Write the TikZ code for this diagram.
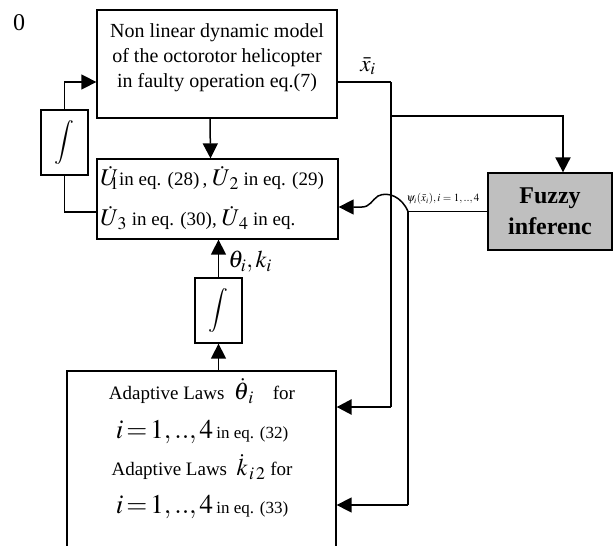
\documentclass[tikz,border=0pt]{standalone}
\usepackage{mathptmx}
\usepackage[no-math]{fontspec}
\setmainfont{Liberation Serif}
\usetikzlibrary{arrows.meta}

\begin{document}
\begin{tikzpicture}[x=1pt,y=-1pt,
  blk/.style={draw, line width=1.3pt, inner sep=0pt},
  wire/.style={line width=1.5pt},
  bus/.style={line width=2.6pt},
  arr/.style={-{Triangle[length=15pt,width=15pt]}},
  txt/.style={inner sep=0pt, font=\fontsize{19}{22}\selectfont},
]
\useasboundingbox (0,0) rectangle (613,546);
\clip (0,0) rectangle (613,546);

% blocks
\node[blk, minimum width=240pt, minimum height=108pt] (model) at (217,64) {};
\node[txt, align=center, font=\fontsize{20}{25}\selectfont] (modeltxt) at (217,58)
  {Non linear dynamic model\\ of the octorotor helicopter\\ in faulty operation eq.(7)};

\node[blk, minimum width=241pt, minimum height=80pt] (ubox) at (217.5,199) {};
\node[txt, anchor=west] (uline1) at (100,178)
  {{\fontsize{24}{26}\selectfont$\dot U_{\!\!\!1}$}in eq. (28)\,, {\fontsize{24}{26}\selectfont$\dot U_{\,2}$} in eq. (29)};
\node[txt, anchor=west] (uline2) at (100,218)
  {{\fontsize{24}{26}\selectfont$\dot U_{\,3}$} in eq. (30), {\fontsize{24}{26}\selectfont$\dot U_{\,4}$} in eq.};

\node[blk, minimum width=47pt, minimum height=65pt, font=\fontsize{22}{24}\selectfont] (int1) at (64.5,142.5) {$\displaystyle\int$};
\node[blk, minimum width=47pt, minimum height=65pt, font=\fontsize{22}{24}\selectfont] (int2) at (218.5,310.5) {$\displaystyle\int$};

\node[blk, fill=black!25, minimum width=124pt, minimum height=77pt,
      align=center, font=\fontsize{24}{31}\selectfont\bfseries] (fuzzy) at (550,211.5) {Fuzzy\\ inferenc};

\node[blk, minimum width=269pt, minimum height=200pt] (adapt) at (201.5,471) {};
\node[txt] (a1) at (202,391) {Adaptive Laws \ {\fontsize{24}{26}\selectfont$\dot\theta_{\,i}$}\quad for};
\node[txt] (a2) at (202,432) {{\fontsize{27}{30}\selectfont$i\!=\!1,..,4$}\,{\fontsize{17}{20}\selectfont in eq. (32)}};
\node[txt] (a3) at (202,467) {Adaptive Laws \ {\fontsize{24}{26}\selectfont$\dot k_{\,i\,2}$}\ for};
\node[txt] (a4) at (202,507) {{\fontsize{27}{30}\selectfont$i\!=\!1,..,4$}\,{\fontsize{17}{20}\selectfont in eq. (33)}};

% labels
\node[font=\fontsize{24}{26}\selectfont, inner sep=0pt] (zero) at (19,23) {0};
\node[font=\fontsize{23}{25}\selectfont, inner sep=0pt] (xlab) at (368,66) {$\bar x_i$};
\node[font=\fontsize{24}{26}\selectfont, inner sep=0pt] (thlab) at (251,262) {$\theta_i ,k_{i\!\!\;\!\;}$};
\node[font=\fontsize{11}{12}\selectfont, inner sep=0pt] (psilab) at (443,199) {$\psi_i(\bar x_i), i=1,..,4$};

% branch points
\coordinate (busTop) at (391,82);
\coordinate (tap) at (391,116);
\coordinate (busBot) at (391,407);
\coordinate (split) at (408,211.5);
\coordinate (splitBot) at (408,505);

% integrator loop
\draw[wire, arr] (int1.north) |- ([yshift=-18pt]model.west);
\draw[wire] (int1.south) |- ([yshift=-13pt]ubox.west);
\draw[wire, arr] ([xshift=-7pt]model.south) -- ([xshift=-7pt]ubox.north);

% state bus
\draw[wire] ([yshift=-18pt]model.east) -- (busTop);
\draw[bus] (busTop) -- (busBot);
\draw[bus, arr] (busBot) -- ([yshift=64pt]adapt.east);
\draw[wire, line width=2pt, arr] (tap) -| ([xshift=13pt]fuzzy.north);

% fuzzy outputs
\draw[wire] (fuzzy.west) -- (split) -- (splitBot);
\draw[wire, arr] (splitBot) -- ([yshift=-34pt]adapt.east);
\draw[wire, arr] (split) .. controls (402,197) and (388,191) .. (378,196)
  .. controls (372,200) and (370,207) .. (362,207) -- ([yshift=-8pt]ubox.east);

% adaptive path
\draw[wire, arr] (int2.south |- adapt.north) -- (int2.south);
\draw[wire, arr] (int2.north) -- (int2.north |- ubox.south);
\end{tikzpicture}
\end{document}
